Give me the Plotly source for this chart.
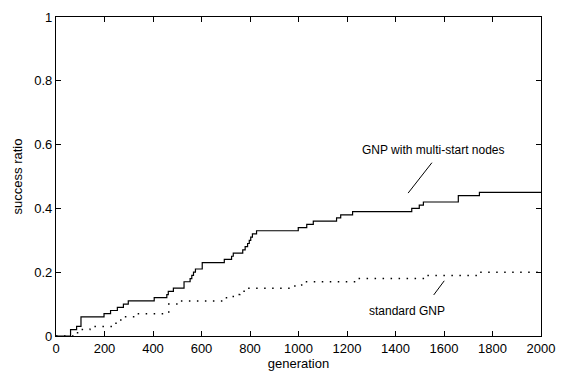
import plotly.graph_objects as go

# GNP with multi-start nodes (step data)
ms_gen = [0, 51, 60, 85, 103, 198, 225, 253, 278, 298, 405, 457, 463, 484, 528, 553, 560, 567, 575,
          603, 694, 724, 731, 770, 780, 790, 797, 803, 810, 827, 999, 1034, 1061, 1157, 1174, 1223,
          1467, 1498, 1515, 1659, 1746, 2000]
ms_ratio = [0, 0, 0.02, 0.03, 0.06, 0.07, 0.08, 0.09, 0.10, 0.11, 0.12, 0.13, 0.14, 0.15, 0.17, 0.18,
            0.19, 0.20, 0.21, 0.23, 0.24, 0.25, 0.26, 0.27, 0.28, 0.29, 0.30, 0.31, 0.32, 0.33, 0.34,
            0.35, 0.36, 0.37, 0.38, 0.39, 0.40, 0.41, 0.42, 0.44, 0.45, 0.45]

# standard GNP (step data)
std_gen = [0, 71, 75, 100, 140, 236, 255, 280, 333, 465, 511, 683, 731, 758, 786, 985, 1013, 1240,
           1529, 1741, 1990, 2000]
std_ratio = [0, 0, 0.01, 0.02, 0.03, 0.04, 0.05, 0.06, 0.07, 0.10, 0.11, 0.12, 0.13, 0.14, 0.15,
             0.16, 0.17, 0.18, 0.19, 0.20, 0.21, 0.21]

x_ticks = list(range(0, 2001, 200))
y_ticks = [0, 0.2, 0.4, 0.6, 0.8, 1]
y_labels = ["0", "0.2", "0.4", "0.6", "0.8", "1"]

fig = go.Figure()
fig.add_trace(go.Scatter(x=ms_gen, y=ms_ratio, mode="lines", line_shape="hv",
                         line=dict(color="black", width=1.2), showlegend=False))
fig.add_trace(go.Scatter(x=std_gen, y=std_ratio, mode="lines", line_shape="hv",
                         line=dict(color="black", width=1.5, dash="1.5px,6.5px"), showlegend=False))

font = dict(family="Liberation Sans, Arial, sans-serif", size=13, color="black")

fig.add_annotation(x=1452, y=0.448, ax=1555, ay=0.548, axref="x", ayref="y",
                   showarrow=True, arrowhead=0, arrowwidth=1, arrowcolor="black", text="")
fig.add_annotation(x=1555, y=0.548, text="GNP with multi-start nodes", showarrow=False,
                   yanchor="bottom", yshift=2, font=dict(family=font["family"], size=12, color="black"))
fig.add_annotation(x=1601, y=0.173, ax=1553, ay=0.124, axref="x", ayref="y",
                   showarrow=True, arrowhead=0, arrowwidth=1, arrowcolor="black", text="")
fig.add_annotation(x=1446, y=0.079, text="standard GNP", showarrow=False,
                   font=dict(family=font["family"], size=12, color="black"))

axis_common = dict(showgrid=False, zeroline=False, showline=True, linecolor="black", linewidth=1.3,
                   mirror="ticks", ticks="inside", ticklen=5, tickcolor="black", tickwidth=1,
                   tickfont=font)

fig.update_xaxes(range=[0, 2000], tickvals=x_ticks, title=dict(text="generation", font=font, standoff=4),
                 **axis_common)
fig.update_yaxes(range=[0, 1], tickvals=y_ticks, ticktext=y_labels,
                 title=dict(text="success ratio", font=font, standoff=8), **axis_common)

fig.update_layout(width=568, height=379, margin=dict(l=56, r=27, t=10, b=38),
                  plot_bgcolor="white", paper_bgcolor="white", font=font)

fig.write_html("out.html")
